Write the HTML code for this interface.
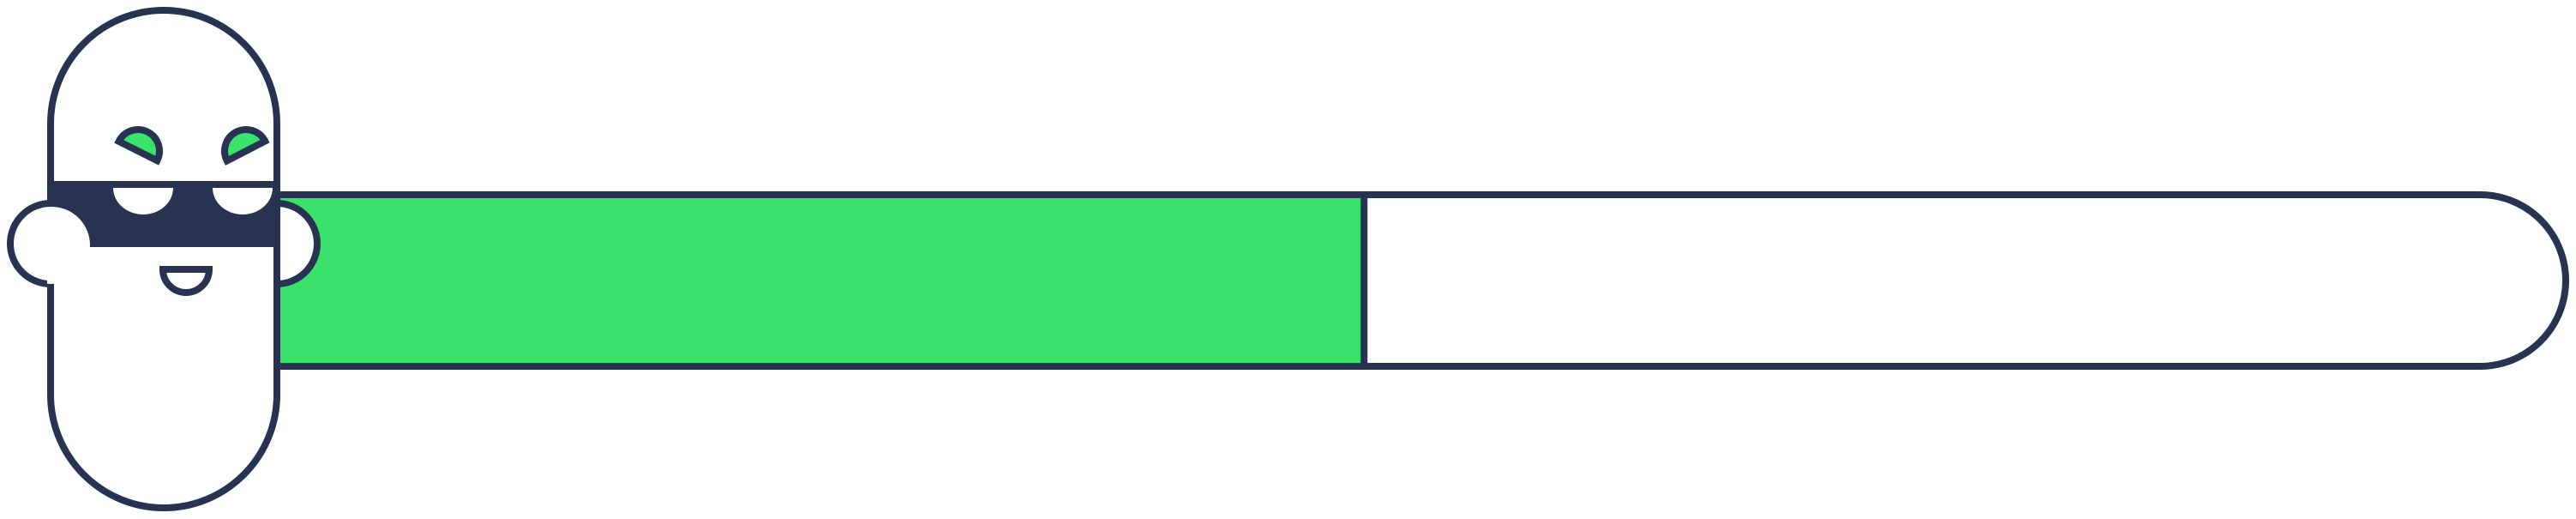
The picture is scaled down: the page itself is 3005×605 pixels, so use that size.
<!DOCTYPE html>
<html><head><meta charset="utf-8"><style>html,body{margin:0;padding:0;background:#fff;}svg{display:block;}</style></head>
<body>
<svg id="s" width="3005" height="605" viewBox="0 0 3005 605" xmlns="http://www.w3.org/2000/svg">
<defs>
<clipPath id="bodyClip"><path d="M59 144 A132 132 0 0 1 323 144 V460 A132 132 0 0 1 59 460 Z"/></clipPath>
<clipPath id="rightOfEdge"><rect x="55" y="0" width="300" height="605"/></clipPath>
</defs>
<path d="M323 227 H2893 A100 100 0 0 1 2893 427 H323 Z" fill="#fff" stroke="#283351" stroke-width="8"/>
<rect id="fill" x="327" y="231" width="0" height="192" fill="#3ae26c"/>
<line id="divider" x1="0" y1="227" x2="0" y2="427" stroke="#283351" stroke-width="8"/>
<circle cx="323" cy="284" r="47" fill="#fff" stroke="#283351" stroke-width="8"/>
<circle cx="59" cy="284" r="47" fill="#fff" stroke="#283351" stroke-width="8"/>
<g>
<path d="M59 144 A132 132 0 0 1 323 144 V460 A132 132 0 0 1 59 460 Z" fill="#fff"/>
<g clip-path="url(#bodyClip)">
<rect x="55" y="211" width="272" height="77" fill="#283351"/>
<path d="M132 219 H202 A35 31 0 0 1 132 219 Z" fill="#fff"/>
<path d="M248 219 H318 A35 31 0 0 1 248 219 Z" fill="#fff"/>
</g>
<path d="M59 144 A132 132 0 0 1 323 144 V460 A132 132 0 0 1 59 460 Z" fill="none" stroke="#283351" stroke-width="8"/>
<circle clip-path="url(#rightOfEdge)" cx="60" cy="286" r="45" fill="#fff"/>
<path id="eyeL" fill="#3ae26c" stroke="#283351" stroke-width="8"/>
<path id="eyeR" fill="#3ae26c" stroke="#283351" stroke-width="8"/>
<path d="M190 314 H244 A27 27 0 0 1 190 314 Z" fill="#fff" stroke="#283351" stroke-width="8"/>
</g>
</svg>
<script>
const progressValue = [47.5];
const trackRange = [0, 100];
function xScale(v){ return 323 + (v - trackRange[0]) / (trackRange[1] - trackRange[0]) * 2670; }
const xv = xScale(progressValue[0]);
const fill = document.getElementById('fill');
fill.setAttribute('width', Math.max(0, xv - 327));
const d = document.getElementById('divider');
d.setAttribute('x1', xv); d.setAttribute('x2', xv);
function eye(cx, cy, r, a0, a1){
  const p = a => [cx + r*Math.cos(a*Math.PI/180), cy + r*Math.sin(a*Math.PI/180)];
  const s = p(a0), e = p(a1);
  return `M${s[0]} ${s[1]} A${r} ${r} 0 0 1 ${e[0]} ${e[1]} Z`;
}
document.getElementById('eyeL').setAttribute('d', eye(161, 176, 25, 206.6, 26.6));
document.getElementById('eyeR').setAttribute('d', eye(287, 176, 25, 152.6, 332.6));
</script>
</body></html>
